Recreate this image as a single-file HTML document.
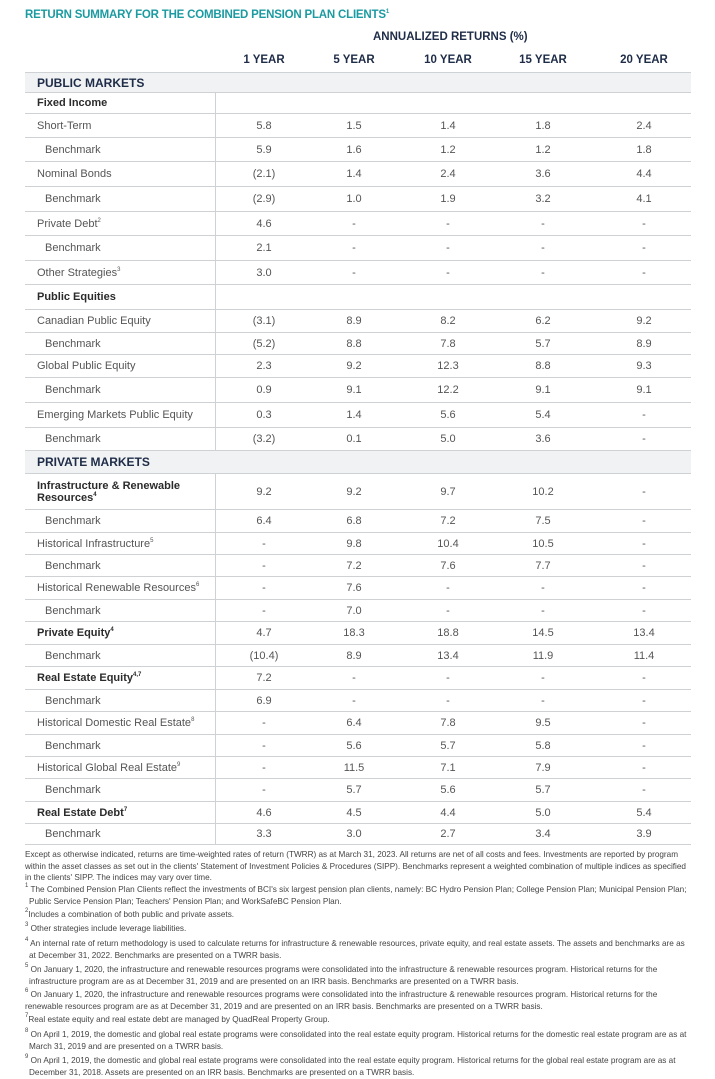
<!DOCTYPE html>
<html><head><meta charset="utf-8"><style>
body{margin:0;width:715px;height:1079px;background:#fff;position:relative;overflow:hidden;font-family:"Liberation Sans",sans-serif;}
.abs{position:absolute;}
.title{left:25px;top:9px;font-size:11.5px;font-weight:bold;color:#1b9ba1;letter-spacing:-0.2px;}
.hdr{font-size:11.5px;font-weight:bold;color:#1e2c48;}
.row{position:absolute;left:25px;width:666px;border-bottom:1.5px solid #cfd2d4;box-sizing:border-box;}
.row.sec{background:#f1f2f3;}
.lab{position:absolute;left:0;top:0;bottom:0;width:191px;border-right:1.5px solid #cfd2d4;display:flex;align-items:center;padding-left:12px;box-sizing:border-box;font-size:11px;color:#555;line-height:12px;}
.sec .lab{border-right:none;font-size:12px;font-weight:bold;color:#1e2c48;width:400px;}
.lab.b{font-weight:bold;color:#2b2b2b;}
.lab.ind{padding-left:20px;}
.val{position:absolute;top:0;bottom:0;display:flex;align-items:center;justify-content:center;width:60px;font-size:11px;color:#555;}
sup{font-size:6px;vertical-align:5px;line-height:0;}
.fn{position:absolute;left:25px;width:668px;font-size:8.2px;line-height:11.5px;color:#444;}
.fn.i{text-indent:-4px;padding-left:4px;box-sizing:border-box;}
</style></head><body>
<div class="abs title">RETURN SUMMARY FOR THE COMBINED PENSION PLAN CLIENTS<sup>1</sup></div>
<div class="abs hdr" style="left:373px;top:31px;">ANNUALIZED RETURNS (%)</div>
<div class="abs" style="left:25px;top:72px;width:666px;height:2px;background:#cfd2d4"></div>
<div id="tbl"></div>

<div class="fn" style="top:849px">Except as otherwise indicated, returns are time-weighted rates of return (TWRR) as at March 31, 2023. All returns are net of all costs and fees. Investments are reported by program within the asset classes as set out in the clients' Statement of Investment Policies &amp; Procedures (SIPP). Benchmarks represent a weighted combination of multiple indices as specified in the clients' SIPP. The indices may vary over time.</div>
<div class="fn i" style="top:884px"><sup>1</sup> The Combined Pension Plan Clients reflect the investments of BCI's six largest pension plan clients, namely: BC Hydro Pension Plan; College Pension Plan; Municipal Pension Plan; Public Service Pension Plan; Teachers' Pension Plan; and WorkSafeBC Pension Plan.</div>
<div class="fn" style="top:909px"><sup>2</sup>Includes a combination of both public and private assets.</div>
<div class="fn" style="top:923px"><sup>3</sup> Other strategies include leverage liabilities.</div>
<div class="fn i" style="top:938px"><sup>4</sup> An internal rate of return methodology is used to calculate returns for infrastructure &amp; renewable resources, private equity, and real estate assets. The assets and benchmarks are as at December 31, 2022. Benchmarks are presented on a TWRR basis.</div>
<div class="fn i" style="top:964px"><sup>5</sup> On January 1, 2020, the infrastructure and renewable resources programs were consolidated into the infrastructure &amp; renewable resources program. Historical returns for the infrastructure program are as at December 31, 2019 and are presented on an IRR basis. Benchmarks are presented on a TWRR basis.</div>
<div class="fn" style="top:989px"><sup>6</sup> On January 1, 2020, the infrastructure and renewable resources programs were consolidated into the infrastructure &amp; renewable resources program. Historical returns for the renewable resources program are as at December 31, 2019 and are presented on an IRR basis. Benchmarks are presented on a TWRR basis.</div>
<div class="fn" style="top:1014px"><sup>7</sup>Real estate equity and real estate debt are managed by QuadReal Property Group.</div>
<div class="fn i" style="top:1029px"><sup>8</sup> On April 1, 2019, the domestic and global real estate programs were consolidated into the real estate equity program. Historical returns for the domestic real estate program are as at March 31, 2019 and are presented on a TWRR basis.</div>
<div class="fn i" style="top:1055px"><sup>9</sup> On April 1, 2019, the domestic and global real estate programs were consolidated into the real estate equity program. Historical returns for the global real estate program are as at December 31, 2018. Assets are presented on an IRR basis. Benchmarks are presented on a TWRR basis.</div>

<script>
const columns=["1 YEAR","5 YEAR","10 YEAR","15 YEAR","20 YEAR"];
const colX=[264,354,448,543,644];
const labels=["PUBLIC MARKETS","Fixed Income","Short-Term","Benchmark","Nominal Bonds","Benchmark","Private Debt<sup>2</sup>","Benchmark","Other Strategies<sup>3</sup>","Public Equities","Canadian Public Equity","Benchmark","Global Public Equity","Benchmark","Emerging Markets Public Equity","Benchmark","PRIVATE MARKETS","Infrastructure &amp; Renewable Resources<sup>4</sup>","Benchmark","Historical Infrastructure<sup>5</sup>","Benchmark","Historical Renewable Resources<sup>6</sup>","Benchmark","Private Equity<sup>4</sup>","Benchmark","Real Estate Equity<sup>4,7</sup>","Benchmark","Historical Domestic Real Estate<sup>8</sup>","Benchmark","Historical Global Real Estate<sup>9</sup>","Benchmark","Real Estate Debt<sup>7</sup>","Benchmark"];
const kinds=["s","g","n","b","n","b","n","b","n","g","n","b","n","b","n","b","s","g","b","n","b","n","b","g","b","g","b","n","b","n","b","g","b"];
const values=[null,null,
["5.8","1.5","1.4","1.8","2.4"],["5.9","1.6","1.2","1.2","1.8"],
["(2.1)","1.4","2.4","3.6","4.4"],["(2.9)","1.0","1.9","3.2","4.1"],
["4.6","-","-","-","-"],["2.1","-","-","-","-"],["3.0","-","-","-","-"],null,
["(3.1)","8.9","8.2","6.2","9.2"],["(5.2)","8.8","7.8","5.7","8.9"],
["2.3","9.2","12.3","8.8","9.3"],["0.9","9.1","12.2","9.1","9.1"],
["0.3","1.4","5.6","5.4","-"],["(3.2)","0.1","5.0","3.6","-"],null,
["9.2","9.2","9.7","10.2","-"],["6.4","6.8","7.2","7.5","-"],
["-","9.8","10.4","10.5","-"],["-","7.2","7.6","7.7","-"],
["-","7.6","-","-","-"],["-","7.0","-","-","-"],
["4.7","18.3","18.8","14.5","13.4"],["(10.4)","8.9","13.4","11.9","11.4"],
["7.2","-","-","-","-"],["6.9","-","-","-","-"],
["-","6.4","7.8","9.5","-"],["-","5.6","5.7","5.8","-"],
["-","11.5","7.1","7.9","-"],["-","5.7","5.6","5.7","-"],
["4.6","4.5","4.4","5.0","5.4"],["3.3","3.0","2.7","3.4","3.9"]];
const bounds=[73,93,114,138,162,187,212,236,261,285,310,333,355,378,403,428,451,474,510,533,555,577,600,622,645,667,690,712,735,757,779,802,824,845];
const tbl=document.getElementById('tbl');
columns.forEach((c,i)=>{
  const h=document.createElement('div');
  h.className='abs hdr';
  h.style.left=(colX[i]-40)+'px';h.style.width='80px';h.style.textAlign='center';h.style.top='54px';
  h.textContent=c;
  
  
  document.body.appendChild(h);
});
labels.forEach((lab,r)=>{
  const row=document.createElement('div');
  row.className='row'+(kinds[r]==='s'?' sec':'');
  row.style.top=bounds[r]+'px';row.style.height=(bounds[r+1]-bounds[r])+'px';
  
  
  const l=document.createElement('div');
  l.className='lab'+(kinds[r]==='g'?' b':'')+(kinds[r]==='b'?' ind':'');
  l.innerHTML='<span>'+lab+'</span>';
  
  
  row.appendChild(l);
  const v=values[r];
  if(v){v.forEach((t,i)=>{
    const c=document.createElement('div');
    c.className='val';c.style.left=(colX[i]-25-30)+'px';c.textContent=t;
    
    
    row.appendChild(c);
  });}
  tbl.appendChild(row);
});
</script>
</body></html>
